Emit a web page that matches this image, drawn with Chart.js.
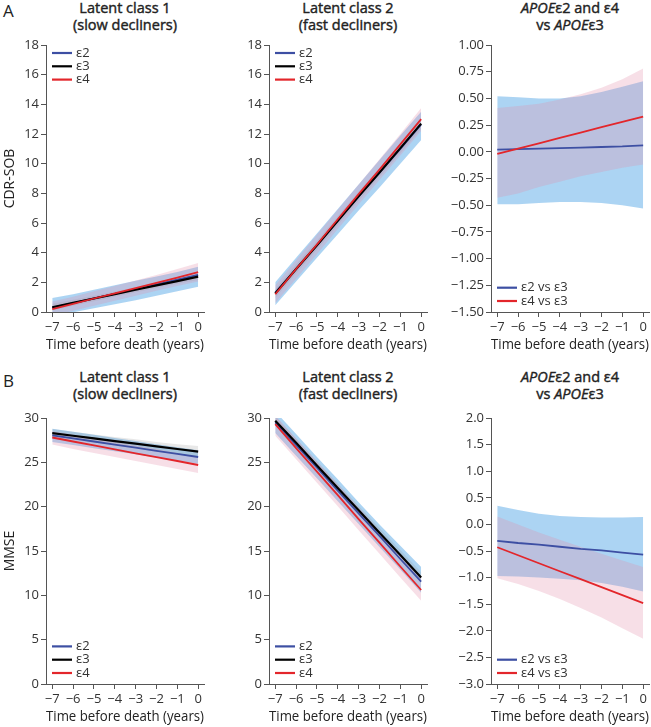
<!DOCTYPE html>
<html>
<head>
<meta charset="utf-8">
<script src="https://cdn.jsdelivr.net/npm/chart.js@4.4.1/dist/chart.umd.min.js"></script>
<style>
  body { margin: 0; background: #fff; overflow: hidden; }
  #fig { position: relative; width: 651px; height: 727px; font-family: "Open Sans", sans-serif; color: #222; }
  #fig canvas { position: absolute; }
  .ttl { position: absolute; width: 180px; text-align: center; font-size: 14.5px; font-weight: 400;
         -webkit-text-stroke: 0.4px #222; line-height: 17px; }
  .lbl { position: absolute; font-size: 17px; }
</style>
</head>
<body>
<div id="fig">
  <div class="lbl" style="left:3px;top:-1px">A</div>
  <div class="lbl" style="left:3px;top:369px">B</div>

  <div class="ttl" style="left:35px;top:-1px">Latent class 1<br>(slow decliners)</div>
  <div class="ttl" style="left:258px;top:-1px">Latent class 2<br>(fast decliners)</div>
  <div class="ttl" style="left:480px;top:-1px"><i>APOE</i>ε2 and ε4<br>vs <i>APOE</i>ε3</div>

  <div class="ttl" style="left:35px;top:368px">Latent class 1<br>(slow decliners)</div>
  <div class="ttl" style="left:258px;top:368px">Latent class 2<br>(fast decliners)</div>
  <div class="ttl" style="left:480px;top:368px"><i>APOE</i>ε2 and ε4<br>vs <i>APOE</i>ε3</div>

  <canvas id="a1"></canvas>
  <canvas id="a2"></canvas>
  <canvas id="a3"></canvas>
  <canvas id="b1"></canvas>
  <canvas id="b2"></canvas>
  <canvas id="b3"></canvas>
</div>

<script>
// x values (years before death) and tick labels
const years = [-7, -6, -5, -4, -3, -2, -1, 0];
const cdrTicks = [0, 2, 4, 6, 8, 10, 12, 14, 16, 18];
const cdrDiffTicks = [-1.5, -1.25, -1, -0.75, -0.5, -0.25, 0, 0.25, 0.5, 0.75, 1];
const mmseTicks = [0, 5, 10, 15, 20, 25, 30];
const mmseDiffTicks = [-3, -2.5, -2, -1.5, -1, -0.5, 0, 0.5, 1, 1.5, 2];

// A, latent class 1: CDR-SOB
const cdrSlowE2 = [0.3, 0.6, 0.92, 1.23, 1.55, 1.86, 2.18, 2.5];
const cdrSlowE3 = [0.32, 0.62, 0.91, 1.2, 1.5, 1.79, 2.08, 2.38];
const cdrSlowE4 = [0.2, 0.55, 0.91, 1.26, 1.61, 1.97, 2.32, 2.68];
const cdrSlowE2Lo = [-0.3, -0.02, 0.25, 0.52, 0.8, 1.1, 1.4, 1.7];
const cdrSlowE2Hi = [0.95, 1.2, 1.5, 1.8, 2.1, 2.4, 2.7, 3.05];
const cdrSlowE3Lo = [0.1, 0.42, 0.73, 1.03, 1.33, 1.62, 1.9, 2.15];
const cdrSlowE3Hi = [0.55, 0.83, 1.1, 1.38, 1.67, 1.96, 2.26, 2.6];
const cdrSlowE4Lo = [-0.25, 0.08, 0.42, 0.76, 1.1, 1.43, 1.75, 2.05];
const cdrSlowE4Hi = [0.7, 1.03, 1.4, 1.76, 2.12, 2.5, 2.9, 3.3];

// A, latent class 2: CDR-SOB
const cdrFastE2 = [1.3, 2.9, 4.5, 6.15, 7.8, 9.4, 11.0, 12.65];
const cdrFastE3 = [1.25, 2.9, 4.5, 6.15, 7.8, 9.4, 11.05, 12.7];
const cdrFastE4 = [1.2, 2.9, 4.55, 6.25, 7.95, 9.6, 11.3, 13.0];
const cdrFastE2Lo = [0.45, 2.05, 3.65, 5.25, 6.85, 8.4, 10.0, 11.6];
const cdrFastE2Hi = [2.0, 3.65, 5.3, 6.95, 8.6, 10.25, 11.9, 13.5];
const cdrFastE3Lo = [0.95, 2.6, 4.2, 5.85, 7.5, 9.1, 10.7, 12.35];
const cdrFastE3Hi = [1.55, 3.2, 4.8, 6.45, 8.1, 9.7, 11.4, 13.05];
const cdrFastE4Lo = [0.6, 2.25, 3.9, 5.6, 7.25, 8.9, 10.55, 12.2];
const cdrFastE4Hi = [1.8, 3.5, 5.2, 6.9, 8.6, 10.3, 12.0, 13.75];

// A, difference vs e3
const cdrDiffE2 = [0.02, 0.025, 0.03, 0.035, 0.04, 0.045, 0.05, 0.06];
const cdrDiffE4 = [-0.02, 0.03, 0.08, 0.13, 0.18, 0.23, 0.28, 0.33];
const cdrDiffE2Lo = [-0.49, -0.49, -0.48, -0.47, -0.47, -0.48, -0.5, -0.53];
const cdrDiffE2Hi = [0.52, 0.51, 0.5, 0.5, 0.52, 0.56, 0.61, 0.66];
const cdrDiffE4Lo = [-0.43, -0.39, -0.33, -0.28, -0.23, -0.19, -0.15, -0.12];
const cdrDiffE4Hi = [0.41, 0.43, 0.45, 0.49, 0.54, 0.6, 0.68, 0.78];

// B, latent class 1: MMSE
const mmseSlowE2 = [28.05, 27.7, 27.35, 27.0, 26.65, 26.3, 25.95, 25.6];
const mmseSlowE3 = [28.3, 28.0, 27.7, 27.4, 27.1, 26.8, 26.5, 26.2];
const mmseSlowE4 = [27.8, 27.35, 26.9, 26.45, 26.0, 25.6, 25.15, 24.7];
const mmseSlowE2Lo = [27.3, 26.95, 26.6, 26.25, 25.9, 25.55, 25.2, 24.85];
const mmseSlowE2Hi = [28.8, 28.45, 28.1, 27.75, 27.4, 27.05, 26.7, 26.35];
const mmseSlowE3Lo = [27.85, 27.55, 27.25, 26.95, 26.65, 26.3, 25.95, 25.6];
const mmseSlowE3Hi = [28.75, 28.45, 28.15, 27.85, 27.6, 27.3, 27.05, 26.85];
const mmseSlowE4Lo = [27.0, 26.5, 26.05, 25.6, 25.15, 24.7, 24.25, 23.8];
const mmseSlowE4Hi = [28.5, 28.1, 27.7, 27.3, 26.9, 26.5, 26.05, 25.6];

// B, latent class 2: MMSE
const mmseFastE2 = [29.5, 26.95, 24.4, 21.8, 19.25, 16.7, 14.1, 11.55];
const mmseFastE3 = [29.7, 27.2, 24.65, 22.1, 19.6, 17.05, 14.55, 12.0];
const mmseFastE4 = [29.3, 26.6, 23.95, 21.3, 18.6, 15.95, 13.25, 10.6];
const mmseFastE2Lo = [28.3, 25.75, 23.2, 20.6, 18.05, 15.45, 12.9, 10.3];
const mmseFastE2Hi = [30.75, 28.2, 25.6, 23.1, 20.5, 18.0, 15.6, 13.2];
const mmseFastE3Lo = [29.2, 26.7, 24.15, 21.6, 19.1, 16.55, 14.0, 11.4];
const mmseFastE3Hi = [30.2, 27.7, 25.15, 22.6, 20.1, 17.6, 15.1, 12.6];
const mmseFastE4Lo = [28.0, 25.35, 22.7, 20.05, 17.35, 14.7, 12.0, 9.4];
const mmseFastE4Hi = [30.3, 27.7, 25.1, 22.5, 19.9, 17.25, 14.6, 11.9];

// B, difference vs e3
const mmseDiffE2 = [-0.31, -0.35, -0.38, -0.42, -0.46, -0.49, -0.53, -0.57];
const mmseDiffE4 = [-0.43, -0.58, -0.73, -0.88, -1.03, -1.18, -1.33, -1.48];
const mmseDiffE2Lo = [-0.97, -0.98, -1.0, -1.02, -1.05, -1.1, -1.17, -1.26];
const mmseDiffE2Hi = [0.35, 0.27, 0.2, 0.16, 0.14, 0.13, 0.13, 0.14];
const mmseDiffE4Lo = [-1.01, -1.12, -1.25, -1.4, -1.57, -1.75, -1.95, -2.15];
const mmseDiffE4Hi = [0.15, 0.0, -0.15, -0.29, -0.42, -0.55, -0.68, -0.8];

const FONT = '"Open Sans", sans-serif';
const BLUE = '#3d4fa3';
const RED = '#e3262b';
const BLACK = '#000';
const BLUE_BAND = 'rgba(90,170,232,0.5)';
const GREY_BAND = 'rgba(150,150,150,0.22)';
const PINK_BAND = 'rgba(228,140,170,0.28)';

const pts = vals => years.map((x, i) => ({ x: x, y: vals[i] }));
const fmt = (v, dec) => (v < 0 ? '\u2212' : '') + Math.abs(v).toFixed(dec);

function band(lo, hi, color, ord) {
    return [
        { data: pts(lo), borderColor: 'transparent', borderWidth: 0, fill: false, order: ord },
        { data: pts(hi), borderColor: 'transparent', borderWidth: 0, fill: '-1', backgroundColor: color, order: ord }
    ];
}

function line(vals, color, width, label, ord) {
    return { data: pts(vals), borderColor: color, borderWidth: width, fill: false, label: label, inLegend: true, order: ord };
}

// legend drawn inside the plot area
const insideLegend = {
    id: 'insideLegend',
    afterDatasetsDraw(chart, args, opts) {
        const { ctx, chartArea } = chart;
        const items = chart.data.datasets.filter(d => d.inLegend);
        let y = opts.top
            ? chartArea.top + 8
            : chartArea.bottom - 11 - (items.length - 1) * 13.3;
        ctx.save();
        ctx.font = '13px ' + FONT;
        ctx.textBaseline = 'middle';
        items.forEach(d => {
            ctx.strokeStyle = d.borderColor;
            ctx.lineWidth = 2.2;
            ctx.beginPath();
            ctx.moveTo(chartArea.left + 6, y);
            ctx.lineTo(chartArea.left + 26, y);
            ctx.stroke();
            ctx.fillStyle = '#333';
            ctx.fillText(d.label, chartArea.left + 30, y);
            y += 13.3;
        });
        ctx.restore();
    }
};

const colLeft = [46, 269, 491];
const rowTop = [45, 418];
const plotH = [267, 266];
const plotW = 158, yW = 46, padTop = 10, padRight = 8, xH = 44;

function makeChart(id, col, row, yTicks, dec, datasets, legendTop, yTitle) {
    const cv = document.getElementById(id);
    const w = yW + plotW + padRight;
    const h = padTop + plotH[row] + xH;
    cv.width = w;
    cv.height = h;
    cv.style.left = (colLeft[col] - yW) + 'px';
    cv.style.top = (rowTop[row] - padTop) + 'px';
    cv.style.width = w + 'px';
    cv.style.height = h + 'px';

    new Chart(cv.getContext('2d'), {
        type: 'line',
        data: { datasets: datasets },
        plugins: [insideLegend],
        options: {
            responsive: false,
            animation: false,
            devicePixelRatio: 1,
            layout: { padding: { top: padTop, right: padRight, left: 0, bottom: 0 } },
            elements: { point: { radius: 0 }, line: { tension: 0 } },
            plugins: {
                legend: { display: false },
                tooltip: { enabled: false },
                filler: { drawTime: 'beforeDatasetDraw' },
                insideLegend: { top: legendTop }
            },
            scales: {
                x: {
                    type: 'linear',
                    min: -7.3,
                    max: 0.28,
                    afterBuildTicks: s => { s.ticks = years.map(v => ({ value: v })); },
                    afterFit: s => { s.height = xH; },
                    grid: { drawOnChartArea: false, tickLength: 5, color: '#555' },
                    border: { color: '#555', width: 1 },
                    ticks: {
                        color: '#333', padding: 2, maxRotation: 0, autoSkip: false,
                        font: { family: FONT, size: 13 },
                        callback: v => fmt(v, 0)
                    },
                    title: {
                        display: true, text: 'Time before death (years)', color: '#222',
                        font: { family: FONT, size: 14 }, padding: { top: 0, bottom: 3 }
                    }
                },
                y: {
                    type: 'linear',
                    min: yTicks[0],
                    max: yTicks[yTicks.length - 1],
                    afterBuildTicks: s => { s.ticks = yTicks.map(v => ({ value: v })); },
                    afterFit: s => { s.width = yW; },
                    grid: { drawOnChartArea: false, tickLength: 5, color: '#555' },
                    border: { color: '#555', width: 1 },
                    ticks: {
                        color: '#333', padding: 2, autoSkip: false,
                        font: { family: FONT, size: 13 },
                        callback: v => fmt(v, dec)
                    },
                    title: {
                        display: !!yTitle, text: yTitle || '', color: '#222',
                        font: { family: FONT, size: 14 }, padding: { top: 2, bottom: 0 }
                    }
                }
            }
        }
    });
}

makeChart('a1', 0, 0, cdrTicks, 0, [
    ...band(cdrSlowE2Lo, cdrSlowE2Hi, BLUE_BAND, 10),
    ...band(cdrSlowE3Lo, cdrSlowE3Hi, GREY_BAND, 9),
    ...band(cdrSlowE4Lo, cdrSlowE4Hi, PINK_BAND, 8),
    line(cdrSlowE2, BLUE, 1.8, 'ε2', 3),
    line(cdrSlowE3, BLACK, 2.2, 'ε3', 2),
    line(cdrSlowE4, RED, 1.8, 'ε4', 1)
], true, 'CDR-SOB');

makeChart('a2', 1, 0, cdrTicks, 0, [
    ...band(cdrFastE2Lo, cdrFastE2Hi, BLUE_BAND, 10),
    ...band(cdrFastE3Lo, cdrFastE3Hi, GREY_BAND, 9),
    ...band(cdrFastE4Lo, cdrFastE4Hi, PINK_BAND, 8),
    line(cdrFastE2, BLUE, 1.8, 'ε2', 3),
    line(cdrFastE3, BLACK, 2.2, 'ε3', 2),
    line(cdrFastE4, RED, 1.8, 'ε4', 1)
], true);

makeChart('a3', 2, 0, cdrDiffTicks, 2, [
    ...band(cdrDiffE2Lo, cdrDiffE2Hi, BLUE_BAND, 10),
    ...band(cdrDiffE4Lo, cdrDiffE4Hi, PINK_BAND, 8),
    line(cdrDiffE2, BLUE, 1.8, 'ε2 vs ε3', 3),
    line(cdrDiffE4, RED, 1.8, 'ε4 vs ε3', 1)
], false);

makeChart('b1', 0, 1, mmseTicks, 0, [
    ...band(mmseSlowE2Lo, mmseSlowE2Hi, BLUE_BAND, 10),
    ...band(mmseSlowE3Lo, mmseSlowE3Hi, GREY_BAND, 9),
    ...band(mmseSlowE4Lo, mmseSlowE4Hi, PINK_BAND, 8),
    line(mmseSlowE2, BLUE, 1.8, 'ε2', 3),
    line(mmseSlowE3, BLACK, 2.2, 'ε3', 2),
    line(mmseSlowE4, RED, 1.8, 'ε4', 1)
], false, 'MMSE');

makeChart('b2', 1, 1, mmseTicks, 0, [
    ...band(mmseFastE2Lo, mmseFastE2Hi, BLUE_BAND, 10),
    ...band(mmseFastE3Lo, mmseFastE3Hi, GREY_BAND, 9),
    ...band(mmseFastE4Lo, mmseFastE4Hi, PINK_BAND, 8),
    line(mmseFastE2, BLUE, 1.8, 'ε2', 3),
    line(mmseFastE3, BLACK, 2.2, 'ε3', 2),
    line(mmseFastE4, RED, 1.8, 'ε4', 1)
], false);

makeChart('b3', 2, 1, mmseDiffTicks, 1, [
    ...band(mmseDiffE2Lo, mmseDiffE2Hi, BLUE_BAND, 10),
    ...band(mmseDiffE4Lo, mmseDiffE4Hi, PINK_BAND, 8),
    line(mmseDiffE2, BLUE, 1.8, 'ε2 vs ε3', 3),
    line(mmseDiffE4, RED, 1.8, 'ε4 vs ε3', 1)
], false);
</script>
</body>
</html>
